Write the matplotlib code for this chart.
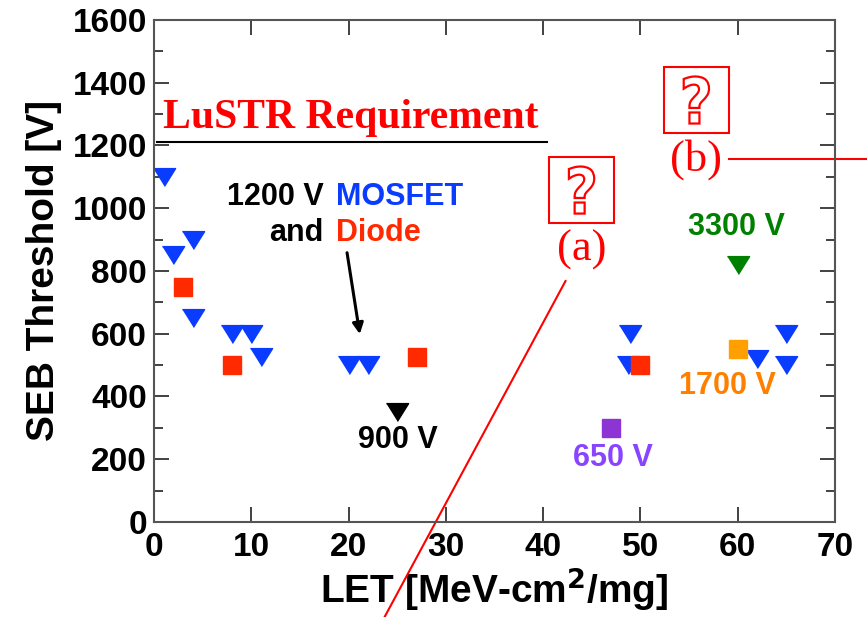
import matplotlib
matplotlib.use('Agg')
import matplotlib.pyplot as plt
from matplotlib.patches import Rectangle, PathPatch
from matplotlib.textpath import TextPath
from matplotlib.font_manager import FontProperties
from matplotlib.transforms import Affine2D

plt.rcParams['font.family'] = ['Liberation Sans', 'DejaVu Sans']
plt.rcParams['font.weight'] = 'bold'

# 1200 V MOSFETs (blue down triangles)
mosfet_let = [1, 2, 4, 4, 8, 10, 11, 20, 22, 48.9, 48.7, 62, 65, 65]
mosfet_seb = [1100, 850, 900, 650, 600, 600, 525, 500, 500, 600, 500, 520, 600, 500]

# 1200 V diodes (red squares)
diode_let = [3, 8, 27, 50]
diode_seb = [750, 500, 525, 500]

# other voltage classes
v900_let, v900_seb = [25], [350]
v3300_let, v3300_seb = [60], [820]
v650_let, v650_seb = [47], [300]
v1700_let, v1700_seb = [60], [550]

lustr_level = 1210

tri = [(-1, 0.8), (1, 0.8), (0, -0.8)]

fig = plt.figure(figsize=(8.67, 6.17), dpi=100)
ax = fig.add_axes([0.1776, 0.154, 0.7855, 0.8136])

ax.plot(mosfet_let, mosfet_seb, ls='none', marker=tri, ms=16, color='#0a3cff', mec='#0a3cff')
ax.plot(v900_let, v900_seb, ls='none', marker=tri, ms=16, color='black')
ax.plot(v3300_let, v3300_seb, ls='none', marker=tri, ms=16, color='#008000')
ax.plot(diode_let, diode_seb, ls='none', marker='s', ms=13, color='#ff2a00')
ax.plot(v650_let, v650_seb, ls='none', marker='s', ms=13, color='#8c35d4')
ax.plot(v1700_let, v1700_seb, ls='none', marker='s', ms=13, color='#ffa000')

ax.set_xlim(0, 70)
ax.set_ylim(0, 1600)
ax.set_xticks(range(0, 71, 10))
ax.set_yticks(range(0, 1601, 200))
ax.set_yticks(range(100, 1600, 200), minor=True)
ax.tick_params(which='both', direction='in', top=True, right=True, color='#333333', width=1.3)
ax.tick_params(which='major', length=11, labelsize=24)
ax.tick_params(which='minor', length=6.5)
ax.tick_params(axis='y', pad=5)
ax.tick_params(axis='x', pad=7)
for s in ax.spines.values():
    s.set_color('#555555')
    s.set_linewidth(1.5)

ax.set_xlabel('LET [MeV-cm$^{\\mathbf{2}}$/mg]', fontsize=28, fontweight='bold', labelpad=2)
ax.set_ylabel('SEB Threshold [V]', fontsize=28, fontweight='bold', labelpad=8)

# requirement line
ax.plot([0.3, 40.4], [lustr_level, lustr_level], color='black', lw=1.5)
ax.text(0.9, 1256, 'LuSTR Requirement', color='red', fontsize=30, fontweight='bold',
        family='Liberation Serif', va='baseline', ha='left')

# device labels
ax.text(17.4, 1036, '1200 V', ha='right', va='center', fontsize=22)
ax.text(18.7, 1036, 'MOSFET', ha='left', va='center', fontsize=22, color='#0a3cff')
ax.text(17.4, 921, 'and', ha='right', va='center', fontsize=22)
ax.text(18.7, 921, 'Diode', ha='left', va='center', fontsize=22, color='#ff2a00')
ax.annotate('', xy=(21.2, 590), xytext=(19.8, 867),
            arrowprops=dict(arrowstyle='-|>', color='black', lw=2.2, mutation_scale=16))
ax.text(25.1, 261, '900 V', ha='center', va='center', fontsize=22)
ax.text(47.2, 204, '650 V', ha='center', va='center', fontsize=22, color='#8844ff')
ax.text(58.9, 433, '1700 V', ha='center', va='center', fontsize=22, color='#ff8000')
ax.text(59.9, 940, '3300 V', ha='center', va='center', fontsize=22, color='#008000')

# hollow question mark glyph, normalised to a unit box
qpath = TextPath((0, 0), '?', size=1, prop=FontProperties(family='DejaVu Sans', weight='bold'))
qb = qpath.get_extents()

# question boxes (a) and (b) with their red leader lines
for x0, x1, y0, y1, lab, ly in [(40.6, 47.3, 953, 1163, '(a)', 867),
                                 (52.4, 59.1, 1240, 1450, '(b)', 1154)]:
    ax.add_patch(Rectangle((x0, y0), x1 - x0, y1 - y0, fill=False, ec='red', lw=1.5,
                           clip_on=False))
    cx, cy = (x0 + x1) / 2, (y0 + y1) / 2
    tr = (Affine2D().translate(-(qb.x0 + qb.x1) / 2, -(qb.y0 + qb.y1) / 2)
          .scale(2.6 / qb.width, 150 / qb.height).translate(cx, cy) + ax.transData)
    ax.add_patch(PathPatch(qpath, transform=tr, fc='white', ec='red', lw=1.6, clip_on=False))
    ax.text(cx, ly, lab, ha='center', va='center', fontsize=32,
            family='Liberation Serif', fontweight='normal', color='red')

ax.plot([42.3, 23.7], [768, -303], color='red', lw=1.5, clip_on=False)
ax.plot([59.1, 73.5], [1157, 1157], color='red', lw=1.5, clip_on=False)

fig.savefig('out.png', dpi=100)
